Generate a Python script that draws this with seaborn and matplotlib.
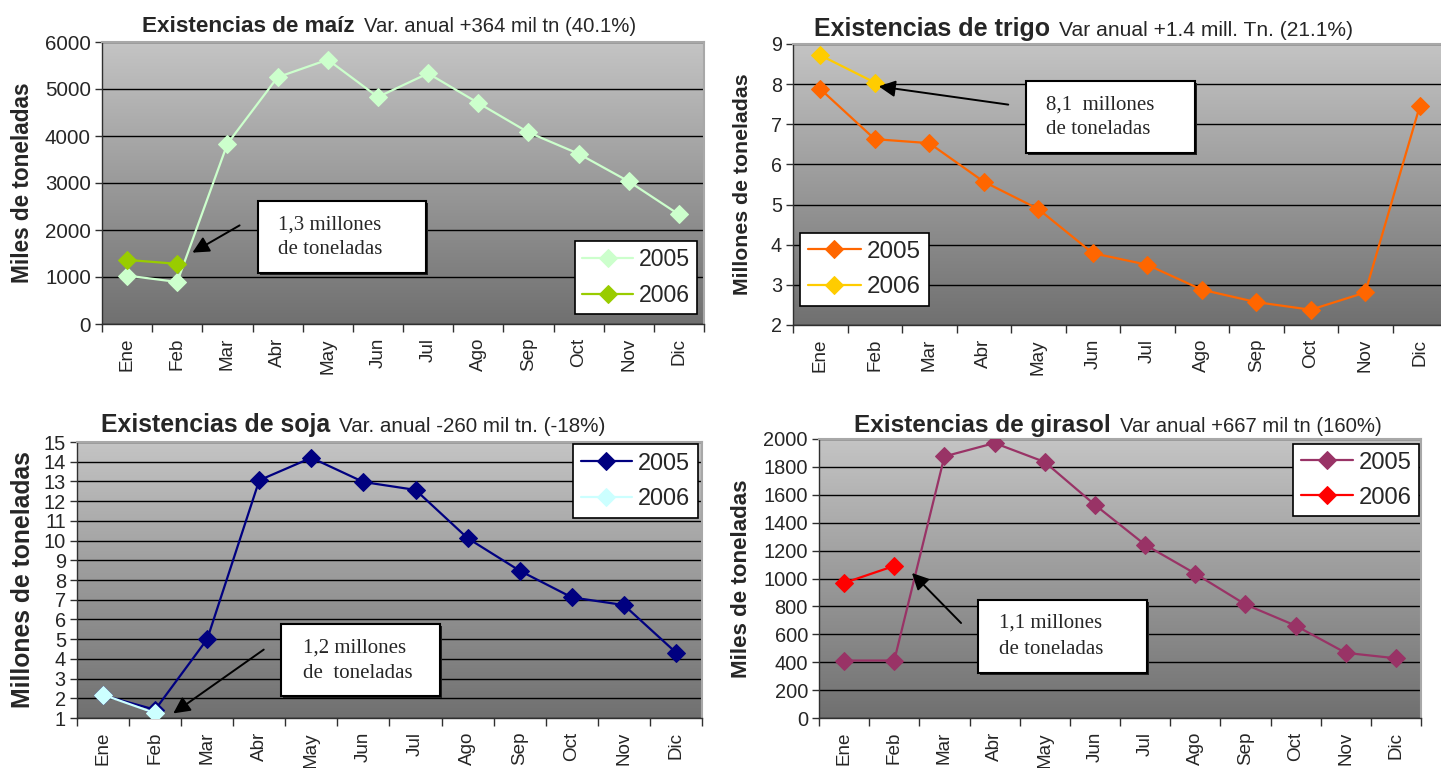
import numpy as np
import pandas as pd
import matplotlib.pyplot as plt
from matplotlib.colors import LinearSegmentedColormap
from matplotlib.patches import Rectangle
import seaborn as sns

# Datos
meses = ['Ene', 'Feb', 'Mar', 'Abr', 'May', 'Jun', 'Jul', 'Ago', 'Sep', 'Oct', 'Nov', 'Dic']

maiz_2005 = [1030, 895, 3835, 5250, 5624, 4830, 5332, 4702, 4077, 3622, 3033, 2330]
maiz_2006 = [1364, 1280]
trigo_2005 = [7.88, 6.63, 6.53, 5.57, 4.89, 3.79, 3.50, 2.88, 2.57, 2.38, 2.81, 7.45]
trigo_2006 = [8.72, 8.04]
soja_2005 = [2.15, 1.42, 5.00, 13.06, 14.20, 12.97, 12.57, 10.12, 8.47, 7.12, 6.73, 4.32]
soja_2006 = [2.18, 1.25]
girasol_2005 = [412, 412, 1875, 1971, 1835, 1528, 1242, 1035, 814, 662, 467, 428]
girasol_2006 = [968, 1090]

W, H = 1441, 768

sns.set_theme(style='ticks')
plt.rcParams['font.family'] = ['Liberation Sans', 'DejaVu Sans']

fig = plt.figure(figsize=(W / 100, H / 100), dpi=100)
fig.patch.set_facecolor('white')

grad = LinearSegmentedColormap.from_list('fondo', ['#707070', '#c4c4c4'])


def fx(x):
    return x / W


def fy(y):
    return 1 - y / H


def panel(box, s05, s06, c05, c06, ylim, step, ylabel, label_x,
          bold, normal, title_xy, legend_xy, fs):
    # fs: (titulo negrita, titulo normal, eje y, ticks y, ticks x, leyenda)
    x0, y0, x1, y1 = box
    ax = fig.add_axes([fx(x0), fy(y1), (x1 - x0) / W, (y1 - y0) / H])

    df = pd.DataFrame({
        'mes': meses + meses[:len(s06)],
        'valor': s05 + s06,
        'anio': ['2005'] * len(s05) + ['2006'] * len(s06),
    })
    sns.lineplot(data=df, x='mes', y='valor', hue='anio',
                 palette={'2005': c05, '2006': c06}, marker='D',
                 markersize=9, linewidth=1.6, errorbar=None, sort=False,
                 legend=False, ax=ax, zorder=3)
    for ln in ax.lines:
        ln.set_markeredgecolor(ln.get_color())

    ax.imshow(np.linspace(0, 1, 256)[:, None], cmap=grad, origin='lower',
              extent=(0, 1, 0, 1), transform=ax.transAxes, aspect='auto',
              zorder=0)
    ax.set_xlim(-0.5, 11.5)
    ax.set_ylim(*ylim)
    ax.set_yticks(np.arange(ylim[0], ylim[1] + step / 2, step))
    ax.yaxis.grid(True, color='black', linewidth=1)
    for gl in ax.get_ygridlines():
        gl.set_zorder(1)

    ax.set_xticks(range(12))
    ax.set_xticklabels(meses, rotation=90)
    ax.set_xticks(np.arange(-0.5, 12, 1), minor=True)
    ax.tick_params(axis='x', which='major', length=0, labelsize=fs[4], pad=10)
    ax.tick_params(axis='x', which='minor', length=6, width=1, color='#303030',
                   bottom=True)
    ax.tick_params(axis='y', length=5, width=1, color='#303030',
                   labelsize=fs[3], pad=3, left=True)
    ax.set_xlabel('')
    ax.set_ylabel(ylabel, fontsize=fs[2], fontweight='bold')
    ax.yaxis.set_label_coords((label_x - x0) / (x1 - x0), 0.5)

    for side in ['left', 'bottom']:
        ax.spines[side].set_color('#303030')
        ax.spines[side].set_linewidth(1)
    for side in ['top', 'right']:
        ax.spines[side].set_visible(True)
        ax.spines[side].set_color('#a8a8a8')
        ax.spines[side].set_linewidth(1.5)

    leg = ax.legend(ax.lines[:2], ['2005', '2006'], loc='upper left',
                    bbox_to_anchor=(fx(legend_xy[0]), fy(legend_xy[1])),
                    bbox_transform=fig.transFigure, borderaxespad=0,
                    fontsize=fs[5], frameon=True, fancybox=False,
                    edgecolor='black', framealpha=1, handlelength=2.2,
                    handletextpad=0.25, borderpad=0.32, labelspacing=0.55)
    leg.get_frame().set_linewidth(1.2)
    leg.set_zorder(5)

    t = fig.text(fx(title_xy[0]), fy(title_xy[1]), bold, fontsize=fs[0],
                 fontweight='bold', ha='left', va='baseline')
    ax.annotate(normal, xy=(1, fy(title_xy[1])),
                xycoords=(t, 'figure fraction'), xytext=(6.5, 0),
                textcoords='offset points', fontsize=fs[1], ha='left',
                va='baseline', annotation_clip=False)
    return ax


def nota(box, lines_y, text_x, texts, tail, head):
    x0, y0, x1, y1 = box
    fig.patches.append(Rectangle((fx(x0) + 2 / W, fy(y1) - 2 / H),
                                 (x1 - x0) / W, (y1 - y0) / H,
                                 transform=fig.transFigure,
                                 facecolor='#202020', edgecolor='none',
                                 zorder=9))
    fig.patches.append(Rectangle((fx(x0), fy(y1)), (x1 - x0) / W,
                                 (y1 - y0) / H, transform=fig.transFigure,
                                 facecolor='white', edgecolor='black',
                                 linewidth=1.5, zorder=10))
    for ty, txt in zip(lines_y, texts):
        fig.text(fx(text_x), fy(ty), txt, family='Liberation Serif',
                 fontsize=15, ha='left', va='center', zorder=11)
    fig.add_artist(plt.Annotation('', xy=(fx(head[0]), fy(head[1])),
                                  xycoords='figure fraction',
                                  xytext=(fx(tail[0]), fy(tail[1])),
                                  textcoords='figure fraction',
                                  arrowprops=dict(arrowstyle='-|>',
                                                  color='black', lw=1.4,
                                                  mutation_scale=25),
                                  zorder=12))


panel((102, 42, 704, 324), maiz_2005, maiz_2006, '#ccffcc', '#99cc00',
      (0, 6000), 1000, 'Miles de toneladas', 34,
      'Existencias de maíz', 'Var. anual +364 mil tn (40.1%)',
      (142, 32), (575, 241), (16.2, 14.6, 16.3, 14.8, 13.6, 16.6))
panel((793, 44, 1447, 325), trigo_2005, trigo_2006, '#ff6600', '#ffcc00',
      (2, 9), 1, 'Millones de toneladas', 752,
      'Existencias de trigo', 'Var anual +1.4 mill. Tn. (21.1%)',
      (814, 36), (800, 233), (18.0, 15.1, 15.3, 14.2, 13.6, 17.4))
panel((77, 442, 702, 718), soja_2005, soja_2006, '#000080', '#ccffff',
      (1, 15), 1, 'Millones de toneladas', 35,
      'Existencias de soja', 'Var. anual -260 mil tn. (-18%)',
      (101, 432), (573, 444), (17.9, 14.9, 17.8, 14.4, 13.6, 16.9))
panel((819, 439, 1421, 718), girasol_2005, girasol_2006, '#993366', '#ff0000',
      (0, 2000), 200, 'Miles de toneladas', 752,
      'Existencias de girasol', 'Var anual +667 mil tn (160%)',
      (854, 432), (1293, 444), (17.6, 14.6, 16.1, 14.4, 13.6, 17.1))

nota((258, 201, 426, 273), (225, 249), 278,
     ['1,3 millones', 'de toneladas'], (242, 224), (190, 254))
nota((1026, 81, 1195, 153), (105, 129), 1046,
     ['8,1  millones', 'de toneladas'], (1011, 105), (876, 86))
nota((281, 624, 440, 696), (648, 673), 303,
     ['1,2 millones', 'de  toneladas'], (266, 648), (171, 715))
nota((978, 600, 1147, 673), (623, 650), 999,
     ['1,1 millones', 'de toneladas'], (963, 625), (910, 571))

fig.savefig('out.png', dpi=100)
